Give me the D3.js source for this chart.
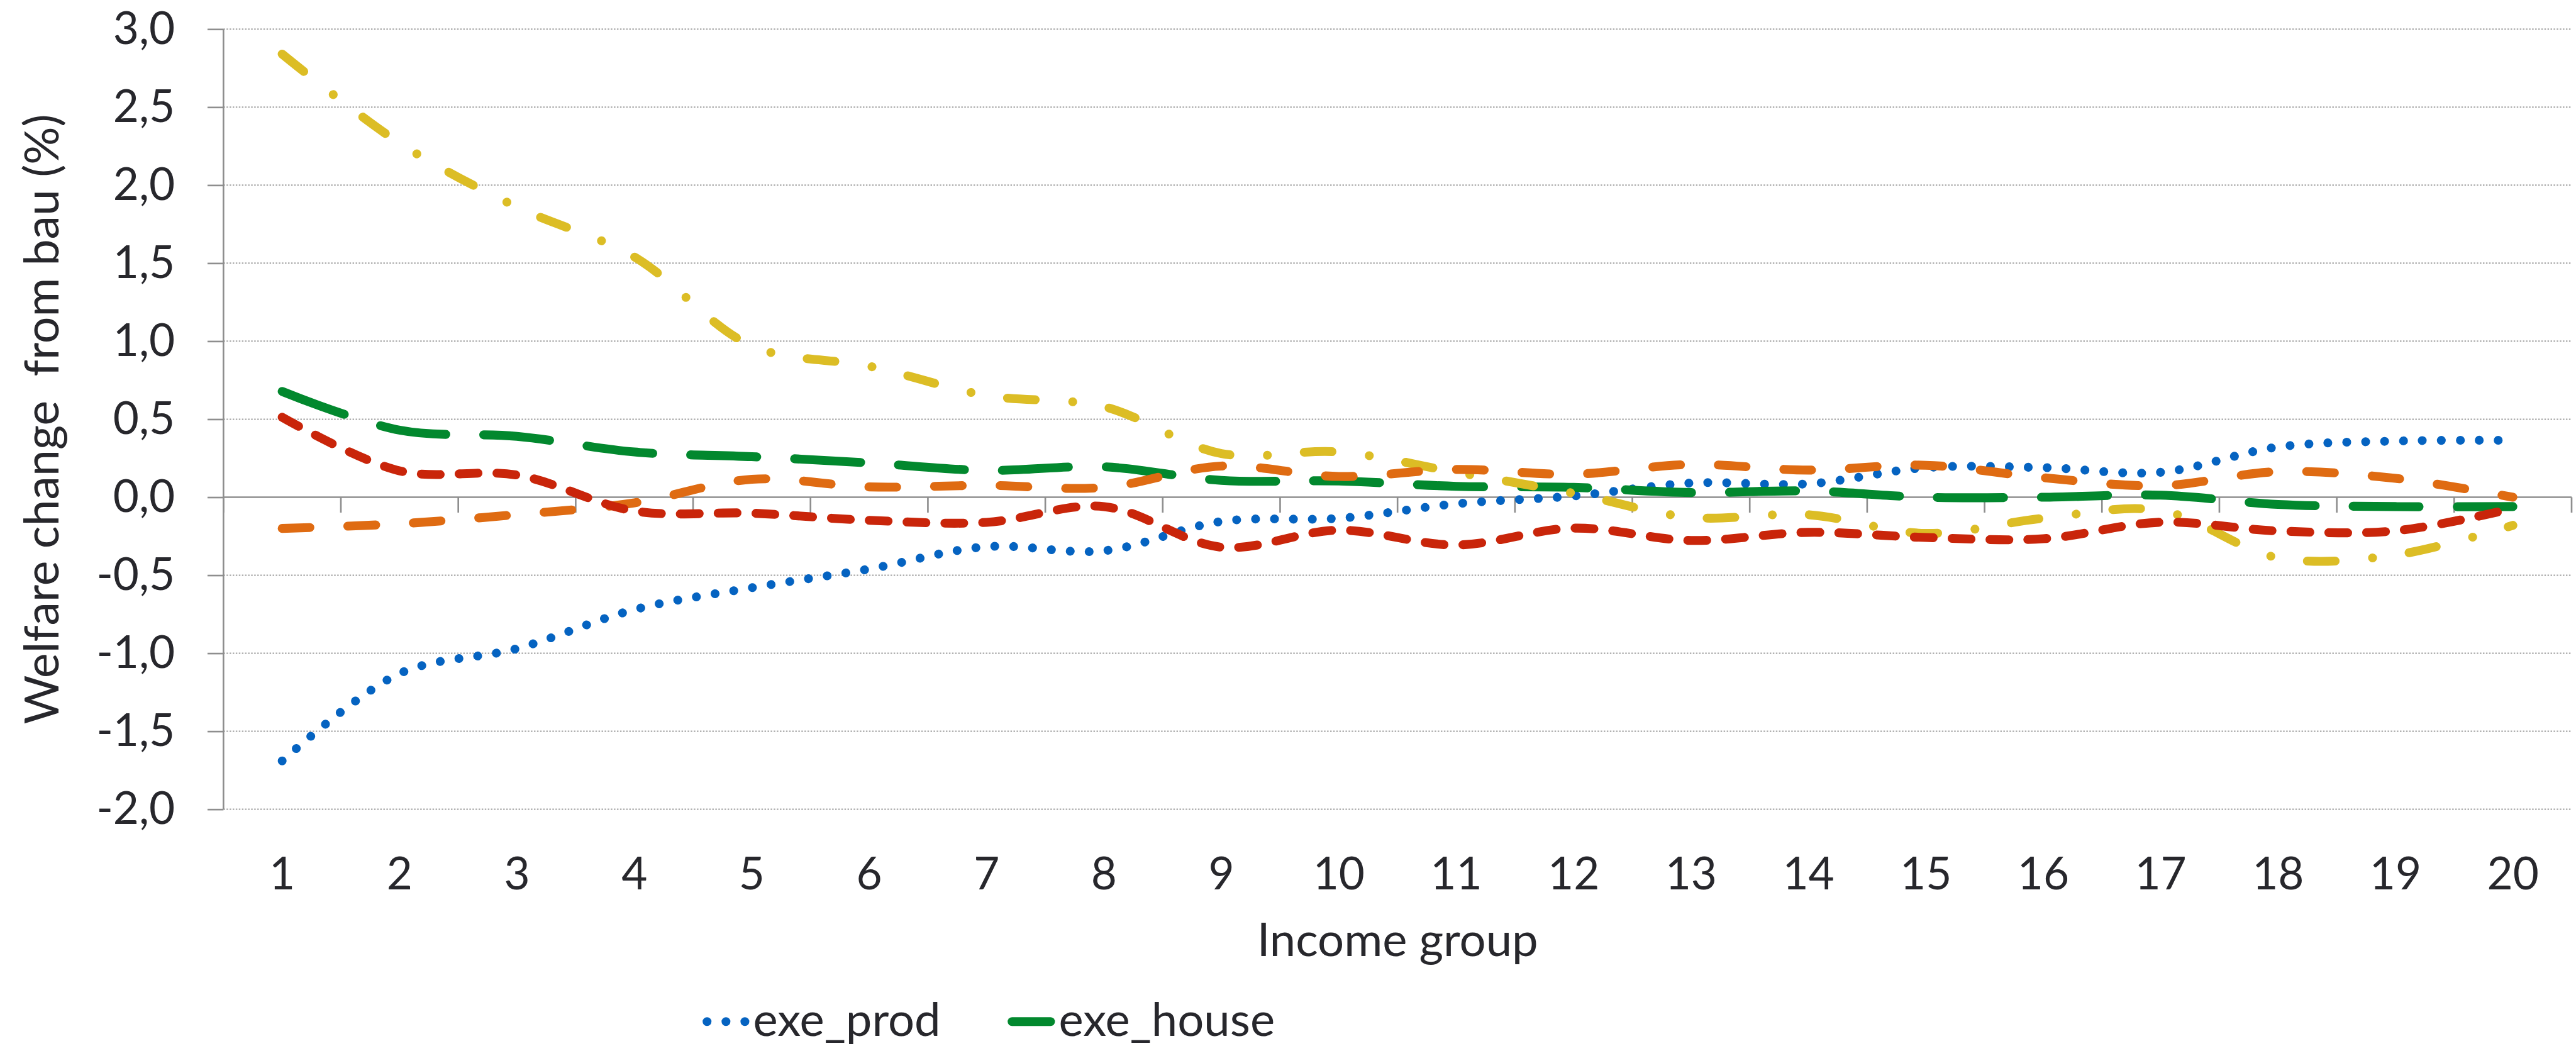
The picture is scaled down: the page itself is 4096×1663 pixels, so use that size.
<!DOCTYPE html>
<html>
<head>
<meta charset="utf-8">
<script src="https://cdn.jsdelivr.net/npm/d3@7/dist/d3.min.js"></script>
<style>
  html, body { margin: 0; padding: 0; background: #ffffff; }
  svg { display: block; }
  text { font-family: Lato, "Open Sans", "Noto Sans", sans-serif; fill: #27272c; }
</style>
</head>
<body>
<svg id="chart" width="4096" height="1663"></svg>
<script>
// ---- data -------------------------------------------------------------
const categories = d3.range(1, 21).map(String);           // income groups 1..20
const yTickValues = [-2, -1.5, -1, -0.5, 0, 0.5, 1, 1.5, 2, 2.5, 3];

const exeProd  = [-1.69, -1.13, -0.97, -0.72, -0.58, -0.46, -0.317, -0.343, -0.155, -0.135,
                  -0.042, 0.008, 0.091, 0.086, 0.19, 0.19, 0.16, 0.322, 0.36, 0.365];
const exeHouse = [0.678, 0.43, 0.39, 0.29, 0.26, 0.22, 0.172, 0.195, 0.108, 0.104,
                  0.07, 0.063, 0.03, 0.04, 0.0, 0.0, 0.013, -0.046, -0.06, -0.06];
const line3    = [2.84, 2.27, 1.86, 1.54, 0.97, 0.84, 0.652, 0.58, 0.28, 0.29,
                  0.16, 0.025, -0.129, -0.112, -0.232, -0.135, -0.085, -0.388, -0.37, -0.18];
const line4    = [-0.2, -0.17, -0.111, -0.036, 0.115, 0.066, 0.076, 0.063, 0.2, 0.133,
                  0.178, 0.148, 0.21, 0.174, 0.205, 0.125, 0.074, 0.164, 0.121, 0.0];
const line5    = [0.513, 0.169, 0.142, -0.088, -0.102, -0.148, -0.161, -0.06, -0.32, -0.211,
                  -0.306, -0.198, -0.277, -0.225, -0.258, -0.266, -0.16, -0.216, -0.215, -0.072];

const legendNames = ["exe_prod", "exe_house"];

// ---- styling (drawn in base units, then scaled to the window) ---------
const S = 0.94;
const series = [
  { values: exeProd,  color: "#0563c1", dash: "0.01 32" },
  { values: exeHouse, color: "#02882e", dash: "112 64" },
  { values: line3,    color: "#dcbd25", dash: "47 63.5 0.01 62.5" },
  { values: line4,    color: "#df6b12", dash: "47 64" },
  { values: line5,    color: "#c9250a", dash: "32 32" }
];

const plot = { left: 378, right: 4350, top: 49.3, bottom: 1368.8 };
const axisColor = "#8e8e8e";
const gridColor = "#a8a8a8";

const svg = d3.select("#chart");
const root = svg.append("g").attr("transform", `scale(${S})`);

const x = d3.scaleBand().domain(categories).range([plot.left, plot.right]).padding(0);
const xc = c => x(c) + x.bandwidth() / 2;
const y = d3.scaleLinear().domain([-2, 3]).range([plot.bottom, plot.top]);

const locale = d3.formatLocale({ decimal: ",", thousands: ".", grouping: [3], currency: ["", ""], minus: "-" });
const fmt = locale.format(".1f");

// ---- gridlines --------------------------------------------------------
root.append("g")
  .selectAll("line")
  .data(yTickValues.filter(v => v !== 0))
  .join("line")
  .attr("x1", plot.left).attr("x2", plot.right)
  .attr("y1", d => y(d)).attr("y2", d => y(d))
  .attr("stroke", gridColor)
  .attr("stroke-width", 2.4)
  .attr("stroke-dasharray", "2.6 2.6");

// ---- y axis -----------------------------------------------------------
const yAxis = d3.axisLeft(y)
  .tickValues(yTickValues)
  .tickFormat(fmt)
  .tickSize(27)
  .tickPadding(55);

const yg = root.append("g")
  .attr("transform", `translate(${plot.left},0)`)
  .call(yAxis);
yg.select(".domain").attr("stroke", axisColor).attr("stroke-width", 2.8)
  .attr("d", `M0,${plot.top}V${plot.bottom}`);
yg.selectAll(".tick line").attr("stroke", axisColor).attr("stroke-width", 2.8);
yg.selectAll(".tick text")
  .attr("font-size", 75.5)
  .attr("dy", "0.32em")
  .style("font-family", "Lato, 'Open Sans', sans-serif")
  .attr("fill", "#27272c");

// ---- x axis (crosses at zero) ----------------------------------------
const y0 = y(0);
root.append("line")
  .attr("x1", plot.left).attr("x2", plot.right)
  .attr("y1", y0).attr("y2", y0)
  .attr("stroke", axisColor).attr("stroke-width", 2.8);

const boundaries = categories.map(c => x(c)).concat([plot.right]);
root.append("g")
  .selectAll("line")
  .data(boundaries)
  .join("line")
  .attr("x1", d => d).attr("x2", d => d)
  .attr("y1", y0).attr("y2", y0 + 26)
  .attr("stroke", axisColor).attr("stroke-width", 2.8);

root.append("g")
  .selectAll("text")
  .data(categories)
  .join("text")
  .attr("x", d => xc(d))
  .attr("y", 1504)
  .attr("text-anchor", "middle")
  .attr("font-size", 75.5)
  .text(d => d);

// ---- axis titles ------------------------------------------------------
root.append("text")
  .attr("x", (plot.left + plot.right) / 2)
  .attr("y", 1617)
  .attr("text-anchor", "middle")
  .attr("font-size", 79)
  .text("Income group");

root.append("text")
  .attr("transform", `translate(99,${(plot.top + plot.bottom) / 2}) rotate(-90)`)
  .attr("text-anchor", "middle")
  .attr("font-size", 80)
  .attr("xml:space", "preserve")
  .style("white-space", "pre")
  .text("Welfare change  from bau (%)");

// ---- series lines -----------------------------------------------------
const line = d3.line()
  .x((d, i) => xc(categories[i]))
  .y(d => y(d))
  .curve(d3.curveCatmullRom);

root.append("g")
  .selectAll("path")
  .data(series)
  .join("path")
  .attr("d", d => line(d.values))
  .attr("fill", "none")
  .attr("stroke", d => d.color)
  .attr("stroke-width", 15)
  .attr("stroke-linecap", "round")
  .attr("stroke-linejoin", "round")
  .attr("stroke-dasharray", d => d.dash);

// ---- legend -----------------------------------------------------------
const legendItems = [
  { name: legendNames[0], s: series[0], x1: 1196, x2: 1262, tx: 1274 },
  { name: legendNames[1], s: series[1], x1: 1712, x2: 1777, tx: 1791 }
];
const lg = root.append("g");
lg.selectAll("line")
  .data(legendItems)
  .join("line")
  .attr("x1", d => d.x1).attr("x2", d => d.x2)
  .attr("y1", 1728).attr("y2", 1728)
  .attr("stroke", d => d.s.color)
  .attr("stroke-width", 15)
  .attr("stroke-linecap", "round")
  .attr("stroke-dasharray", d => d.s.dash);
lg.selectAll("text")
  .data(legendItems)
  .join("text")
  .attr("x", d => d.tx)
  .attr("y", 1752)
  .attr("font-size", 79)
  .text(d => d.name);
</script>
</body>
</html>
